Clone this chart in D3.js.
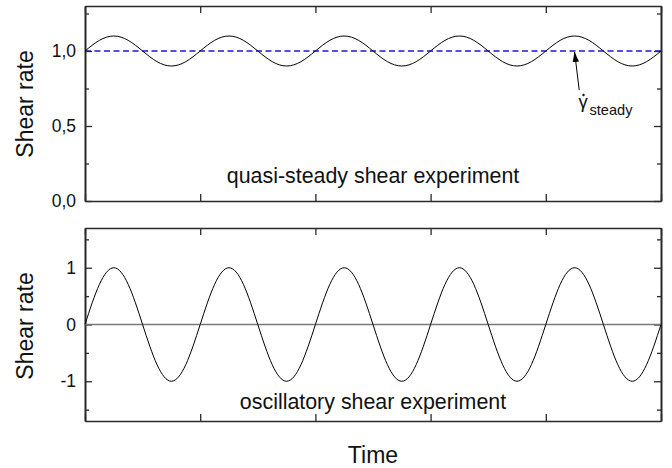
<!DOCTYPE html>
<html>
<head>
<meta charset="utf-8">
<script src="https://cdn.jsdelivr.net/npm/d3@7"></script>
<style>
  html, body { margin: 0; padding: 0; background: #fff; }
  svg { display: block; font-family: "Liberation Sans", Arial, sans-serif; }
</style>
</head>
<body>
<svg id="chart" width="672" height="468"></svg>
<script>
// Time axis (in oscillation periods) and shear-rate samples at every eighth of a period
const time = [
  0, 0.125, 0.25, 0.375, 0.5, 0.625, 0.75, 0.875,
  1, 1.125, 1.25, 1.375, 1.5, 1.625, 1.75, 1.875,
  2, 2.125, 2.25, 2.375, 2.5, 2.625, 2.75, 2.875,
  3, 3.125, 3.25, 3.375, 3.5, 3.625, 3.75, 3.875,
  4, 4.125, 4.25, 4.375, 4.5, 4.625, 4.75, 4.875,
  5
];
const quasiSteadyRate = [
  1.0, 1.071, 1.1, 1.071, 1.0, 0.929, 0.9, 0.929,
  1.0, 1.071, 1.1, 1.071, 1.0, 0.929, 0.9, 0.929,
  1.0, 1.071, 1.1, 1.071, 1.0, 0.929, 0.9, 0.929,
  1.0, 1.071, 1.1, 1.071, 1.0, 0.929, 0.9, 0.929,
  1.0, 1.071, 1.1, 1.071, 1.0, 0.929, 0.9, 0.929,
  1.0
];
const oscillatoryRate = [
  0, 0.707, 1, 0.707, 0, -0.707, -1, -0.707,
  0, 0.707, 1, 0.707, 0, -0.707, -1, -0.707,
  0, 0.707, 1, 0.707, 0, -0.707, -1, -0.707,
  0, 0.707, 1, 0.707, 0, -0.707, -1, -0.707,
  0, 0.707, 1, 0.707, 0, -0.707, -1, -0.707,
  0
];
const steadyRate = 1.0;
const zeroRate = 0;

// Axis ticks
const timeTicks = [0, 1, 2, 3, 4, 5];
const topMajorTicks = [0, 0.5, 1.0];
const topMinorTicks = [0.25, 0.75, 1.25];
const bottomMajorTicks = [-1, 0, 1];
const bottomMinorTicks = [-1.5, -0.5, 0.5, 1.5];
const topDomain = [0, 1.3];
const bottomDomain = [-1.7, 1.7];

// Labels
const yLabel = "Shear rate";
const xLabel = "Time";
const topCaption = "quasi-steady shear experiment";
const bottomCaption = "oscillatory shear experiment";
const steadySymbol = "γ";
const steadySubscript = "steady";
// arrow from the symbol up to the steady-rate line (time, rate)
const arrowTail = [4.29, 0.74];
const arrowTip = [4.25, 1.0];

const svg = d3.select("#chart");
const commaLocale = d3.formatLocale({ decimal: ",", thousands: ".", grouping: [3], currency: ["", ""] });
const fmtTop = commaLocale.format(".1f");
const fmtBottom = v => (v < 0 ? "-" : "") + Math.abs(v);

const left = 85, right = 661;
const x = d3.scaleLinear().domain([time[0], time[time.length - 1]]).range([left, right]);

const panels = [
  { top: 6, bottom: 201, domain: topDomain, major: topMajorTicks, minor: topMinorTicks, fmt: fmtTop, labelY: 104 },
  { top: 228, bottom: 421, domain: bottomDomain, major: bottomMajorTicks, minor: bottomMinorTicks, fmt: fmtBottom, labelY: 326 }
];
panels.forEach(p => {
  p.y = d3.scaleLinear().domain(p.domain).range([p.bottom, p.top]);
});

const axisColor = "#2a2a2a";
const majorLen = 7, minorLen = 4;

function drawFrame(p) {
  const g = svg.append("g");
  const xTickLabels = () => "";
  // bottom axis (ticks inward, no labels)
  g.append("g")
    .attr("transform", `translate(0,${p.bottom})`)
    .call(d3.axisBottom(x).tickValues(timeTicks).tickSizeInner(-majorLen).tickSizeOuter(0).tickFormat(xTickLabels));
  // top axis
  g.append("g")
    .attr("transform", `translate(0,${p.top})`)
    .call(d3.axisTop(x).tickValues(timeTicks).tickSizeInner(-majorLen).tickSizeOuter(0).tickFormat(xTickLabels));
  // left axis with labels, major + minor
  g.append("g")
    .attr("transform", `translate(${left},0)`)
    .call(d3.axisLeft(p.y).tickValues(p.major).tickSizeInner(-majorLen).tickSizeOuter(0).tickPadding(9).tickFormat(p.fmt));
  g.append("g")
    .attr("transform", `translate(${left},0)`)
    .call(d3.axisLeft(p.y).tickValues(p.minor).tickSizeInner(-minorLen).tickSizeOuter(0).tickFormat(""));
  // right axis
  g.append("g")
    .attr("transform", `translate(${right},0)`)
    .call(d3.axisRight(p.y).tickValues(p.major).tickSizeInner(-majorLen).tickSizeOuter(0).tickFormat(""));
  g.append("g")
    .attr("transform", `translate(${right},0)`)
    .call(d3.axisRight(p.y).tickValues(p.minor).tickSizeInner(-minorLen).tickSizeOuter(0).tickFormat(""));

  g.selectAll(".domain").attr("stroke", axisColor).attr("stroke-width", 1.6);
  g.selectAll(".tick line").attr("stroke", axisColor).attr("stroke-width", 1.3);
  g.selectAll(".tick text")
    .attr("fill", "#111")
    .style("font-size", "17.5px")
    .style("font-family", "'Liberation Sans', Arial, sans-serif");

  // y-axis title
  svg.append("text")
    .attr("transform", `translate(33,${p.labelY}) rotate(-90)`)
    .attr("text-anchor", "middle")
    .attr("fill", "#111")
    .style("font-size", "23px")
    .text(yLabel);
}

panels.forEach(drawFrame);

// --- top panel: quasi-steady shear ---
const pTop = panels[0];
svg.append("line")
  .attr("x1", x(time[0])).attr("x2", x(time[time.length - 1]))
  .attr("y1", pTop.y(steadyRate)).attr("y2", pTop.y(steadyRate))
  .attr("stroke", "#1a1ad6")
  .attr("stroke-width", 1.3)
  .attr("stroke-dasharray", "6,3.5");

const topLine = d3.line()
  .x((d, i) => x(time[i]))
  .y(d => pTop.y(d))
  .curve(d3.curveNatural);
svg.append("path")
  .datum(quasiSteadyRate)
  .attr("d", topLine)
  .attr("fill", "none")
  .attr("stroke", "#000")
  .attr("stroke-width", 1);

svg.append("text")
  .attr("x", 373).attr("y", 183)
  .attr("text-anchor", "middle")
  .attr("fill", "#111")
  .style("font-size", "21.4px")
  .text(topCaption);

// annotation arrow
svg.append("defs").append("marker")
  .attr("id", "arrowhead")
  .attr("viewBox", "0 0 10 10")
  .attr("refX", 10).attr("refY", 5)
  .attr("markerWidth", 10).attr("markerHeight", 10)
  .attr("markerUnits", "userSpaceOnUse")
  .attr("orient", "auto")
  .append("path")
  .attr("d", "M0,1.8 L10,5 L0,8.2 Z")
  .attr("fill", "#000");

svg.append("line")
  .attr("x1", x(arrowTail[0])).attr("y1", pTop.y(arrowTail[1]))
  .attr("x2", x(arrowTip[0])).attr("y2", pTop.y(arrowTip[1]) + 1)
  .attr("stroke", "#000")
  .attr("stroke-width", 1)
  .attr("marker-end", "url(#arrowhead)");

// gamma-dot with subscript
svg.append("text")
  .attr("x", 578.5).attr("y", 108)
  .attr("fill", "#111")
  .style("font-size", "18.5px")
  .text(steadySymbol);
svg.append("circle")
  .attr("cx", 583.5).attr("cy", 95)
  .attr("r", 1.2)
  .attr("fill", "#111");
svg.append("text")
  .attr("x", 589.5).attr("y", 115)
  .attr("fill", "#111")
  .style("font-size", "14.6px")
  .text(steadySubscript);

// --- bottom panel: oscillatory shear ---
const pBot = panels[1];
svg.append("line")
  .attr("x1", x(time[0])).attr("x2", x(time[time.length - 1]))
  .attr("y1", pBot.y(zeroRate)).attr("y2", pBot.y(zeroRate))
  .attr("stroke", "#7a7a7a")
  .attr("stroke-width", 1.5);

const botLine = d3.line()
  .x((d, i) => x(time[i]))
  .y(d => pBot.y(d))
  .curve(d3.curveNatural);
svg.append("path")
  .datum(oscillatoryRate)
  .attr("d", botLine)
  .attr("fill", "none")
  .attr("stroke", "#000")
  .attr("stroke-width", 1);

svg.append("text")
  .attr("x", 373).attr("y", 409)
  .attr("text-anchor", "middle")
  .attr("fill", "#111")
  .style("font-size", "21.4px")
  .text(bottomCaption);

// x-axis title
svg.append("text")
  .attr("x", 373).attr("y", 463)
  .attr("text-anchor", "middle")
  .attr("fill", "#111")
  .style("font-size", "23px")
  .text(xLabel);
</script>
</body>
</html>
